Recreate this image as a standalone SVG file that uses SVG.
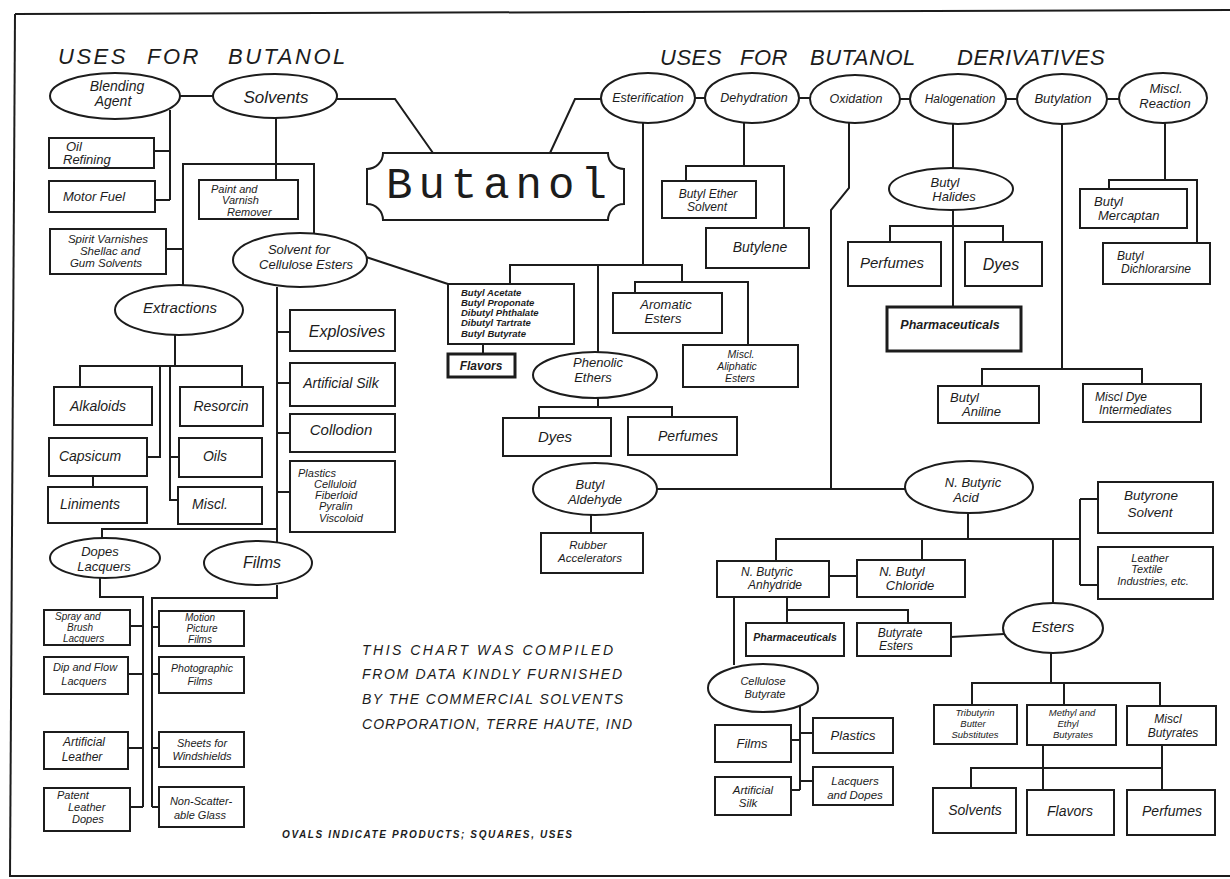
<svg xmlns="http://www.w3.org/2000/svg" width="1230" height="879" viewBox="0 0 1230 879">
<style>
.n{fill:#fff;stroke:#1c1c1c;stroke-width:2}
.c{fill:none;stroke:#1c1c1c;stroke-width:2}
.b{fill:#fff;stroke:#1c1c1c;stroke-width:3}
text{font-family:"Liberation Sans",Arial,sans-serif;font-style:italic;fill:#1c1c1c;text-anchor:middle}
.s{text-anchor:start}
.bold{font-weight:bold}
.title{font-size:22px;text-anchor:start}
.note{font-size:14px;text-anchor:start}
</style>
<rect width="1230" height="879" fill="#fff"/>
<g id="frame" class="c">
<path d="M15,14 L1230,10"/>
<path d="M15,14 L10,877"/>
<path d="M10,876 L1230,876"/>
</g>
<g id="titles">
<text class="title" y="64" style="letter-spacing:2.5px"><tspan x="58">USES</tspan> <tspan x="147">FOR</tspan> <tspan x="228">BUTANOL</tspan></text>
<text class="title" y="65" style="letter-spacing:0.5px"><tspan x="660">USES</tspan> <tspan x="740">FOR</tspan> <tspan x="810">BUTANOL</tspan> <tspan x="957">DERIVATIVES</tspan></text>
</g>
<g id="connectors" class="c">
<path d="M180,96 H213"/>
<path d="M337,99 H395 L433,153"/>
<path d="M170,110 V200 M154,151 H170 M155,200 H170"/>
<path d="M276,118 V180"/>
<path d="M183,287 V164 H314 V233 M166,249 H183"/>
<path d="M366,257 L448,284"/>
<path d="M277,287 V542 M277,332 H290 M277,383 H290 M277,433 H290 M277,492 H290"/>
<path d="M102,538 V529 H277"/>
<path d="M175,335 V366 M80,387 V366 H242 V387 M160,366 V457 H147 M170,366 V500 H179 M170,457 H179 M93,476 V487"/>
<path d="M100,578 V597 H143 V807 M277,585 V598 H152 V807"/>
<path d="M130,626 H143 M128,674 H143 M128,748 H143 M130,807 H143"/>
<path d="M152,627 H159 M152,674 H159 M152,748 H159 M152,807 H159"/>
<path d="M550,153 L575,99 H601"/>
<path d="M695,98 H706 M799,98 H810 M899,99 H910 M1006,99 H1017 M1107,99 H1119"/>
<path d="M643,123 V265 M510,284 V265 H682 V282 M598,265 V352 M635,293 V282 H748 V345"/>
<path d="M483,344 V354"/>
<path d="M598,398 V407 M539,418 V407 H672 V417"/>
<path d="M657,489 H905"/>
<path d="M591,515 V533"/>
<path d="M849,123 V188 L831,210 V489"/>
<path d="M744,123 V166 M686,181 V166 H784 V228"/>
<path d="M953,124 V168 M953,210 V307 M890,242 V226 H1003 V242"/>
<path d="M1062,124 V369 M982,386 V369 H1142 V384"/>
<path d="M1165,123 V180 M1109,189 V180 H1197 V243"/>
<path d="M968,513 V539 M776,561 V539 H1080 M922,539 V560 M1053,539 V603 M1080,499 V585 M1080,499 H1098 M1080,585 H1098"/>
<path d="M829,576 H857 M787,597 V610 H908 V623 M787,610 V623 M734,597 V665"/>
<path d="M951,637 L1004,634"/>
<path d="M800,705 V790 M791,740 H800 M800,733 H813 M791,790 H800 M800,781 H813"/>
<path d="M1051,653 V683 M972,705 V683 H1160 V706 M1064,683 V705"/>
<path d="M1043,745 V790 M1162,745 V790 M971,788 V768 H1162"/>
</g>
<g id="butanol">
<path class="n" d="M383,153 H608 A16,16 0 0 0 624,169 V204 A16,16 0 0 0 608,220 H383 A16,16 0 0 0 367,204 V169 A16,16 0 0 0 383,153 Z"/>
<text x="386" y="198" style="font-family:'Liberation Mono',monospace;font-style:normal;font-size:44px;letter-spacing:6px;text-anchor:start">Butanol</text>
</g>
<g id="blending-agent"><ellipse class="n" cx="115" cy="96" rx="65" ry="23"/><text font-size="14"><tspan x="117" y="91">Blending</tspan><tspan x="113" y="106">Agent</tspan></text></g>
<g id="solvents"><ellipse class="n" cx="275" cy="96" rx="62" ry="22"/><text x="276" y="103" font-size="17">Solvents</text></g>
<g id="oil-refining"><rect class="n" x="49" y="138" width="105" height="30"/><text class="s" font-size="13"><tspan x="66" y="151">Oil</tspan><tspan x="63" y="164">Refining</tspan></text></g>
<g id="motor-fuel"><rect class="n" x="49" y="181" width="106" height="31"/><text class="s" x="63" y="201" font-size="13">Motor Fuel</text></g>
<g id="spirit-varnishes"><rect class="n" x="50" y="229" width="116" height="45"/><text font-size="11.5"><tspan x="108" y="243">Spirit Varnishes</tspan><tspan x="110" y="255">Shellac and</tspan><tspan x="106" y="267">Gum Solvents</tspan></text></g>
<g id="paint-remover"><rect class="n" x="199" y="180" width="99" height="39"/><text class="s" font-size="11"><tspan x="211" y="193">Paint and</tspan><tspan x="222" y="204">Varnish</tspan><tspan x="227" y="216">Remover</tspan></text></g>
<g id="solvent-cellulose"><ellipse class="n" cx="300" cy="260" rx="67" ry="27"/><text font-size="13"><tspan x="299" y="254">Solvent for</tspan><tspan x="306" y="269">Cellulose Esters</tspan></text></g>
<g id="extractions"><ellipse class="n" cx="179" cy="310" rx="64" ry="25"/><text x="180" y="313" font-size="15">Extractions</text></g>
<g id="alkaloids"><rect class="n" x="54" y="387" width="98" height="38"/><text x="98" y="411" font-size="14">Alkaloids</text></g>
<g id="resorcin"><rect class="n" x="180" y="387" width="83" height="39"/><text x="221" y="411" font-size="14">Resorcin</text></g>
<g id="capsicum"><rect class="n" x="49" y="438" width="98" height="38"/><text x="90" y="461" font-size="14">Capsicum</text></g>
<g id="oils"><rect class="n" x="179" y="438" width="83" height="39"/><text x="215" y="461" font-size="14">Oils</text></g>
<g id="liniments"><rect class="n" x="48" y="487" width="99" height="36"/><text x="90" y="509" font-size="14">Liniments</text></g>
<g id="miscl-extr"><rect class="n" x="178" y="487" width="84" height="37"/><text x="210" y="509" font-size="14">Miscl.</text></g>
<g id="explosives"><rect class="n" x="290" y="310" width="105" height="41"/><text x="347" y="337" font-size="16">Explosives</text></g>
<g id="artificial-silk"><rect class="n" x="290" y="363" width="105" height="43"/><text x="341" y="388" font-size="14">Artificial Silk</text></g>
<g id="collodion"><rect class="n" x="290" y="414" width="105" height="38"/><text x="341" y="435" font-size="15">Collodion</text></g>
<g id="plastics-list"><rect class="n" x="290" y="461" width="105" height="71"/><text class="s" font-size="11"><tspan x="298" y="477">Plastics</tspan><tspan x="314" y="488">Celluloid</tspan><tspan x="315" y="499">Fiberloid</tspan><tspan x="319" y="510">Pyralin</tspan><tspan x="319" y="522">Viscoloid</tspan></text></g>
<g id="dopes-lacquers"><ellipse class="n" cx="105" cy="558" rx="55" ry="20"/><text font-size="13"><tspan x="100" y="556">Dopes</tspan><tspan x="104" y="571">Lacquers</tspan></text></g>
<g id="films-oval"><ellipse class="n" cx="258" cy="563" rx="54" ry="22"/><text x="262" y="568" font-size="16">Films</text></g>
<g id="spray-brush"><rect class="n" x="44" y="610" width="86" height="35"/><text class="s" font-size="10"><tspan x="55" y="620">Spray and</tspan><tspan x="67" y="631">Brush</tspan><tspan x="63" y="642">Lacquers</tspan></text></g>
<g id="dip-flow"><rect class="n" x="44" y="657" width="84" height="37"/><text font-size="11"><tspan x="85" y="671">Dip and Flow</tspan><tspan x="84" y="685">Lacquers</tspan></text></g>
<g id="artificial-leather"><rect class="n" x="44" y="732" width="84" height="37"/><text font-size="12"><tspan x="84" y="746">Artificial</tspan><tspan x="82" y="761">Leather</tspan></text></g>
<g id="patent-leather"><rect class="n" x="44" y="788" width="86" height="43"/><text class="s" font-size="11"><tspan x="57" y="799">Patent</tspan><tspan x="68" y="811">Leather</tspan><tspan x="72" y="823">Dopes</tspan></text></g>
<g id="motion-picture"><rect class="n" x="159" y="611" width="85" height="35"/><text font-size="10"><tspan x="200" y="621">Motion</tspan><tspan x="202" y="632">Picture</tspan><tspan x="200" y="643">Films</tspan></text></g>
<g id="photographic"><rect class="n" x="159" y="657" width="85" height="36"/><text font-size="10.5"><tspan x="202" y="672">Photographic</tspan><tspan x="200" y="685">Films</tspan></text></g>
<g id="sheets"><rect class="n" x="159" y="732" width="85" height="35"/><text font-size="11"><tspan x="202" y="747">Sheets for</tspan><tspan x="202" y="760">Windshields</tspan></text></g>
<g id="non-scatter"><rect class="n" x="159" y="787" width="85" height="40"/><text font-size="11"><tspan x="201" y="805">Non-Scatter-</tspan><tspan x="200" y="819">able Glass</tspan></text></g>
<g id="esterification"><ellipse class="n" cx="648" cy="98" rx="47" ry="25"/><text x="648" y="102" font-size="12.5">Esterification</text></g>
<g id="dehydration"><ellipse class="n" cx="752" cy="98" rx="47" ry="25"/><text x="754" y="102" font-size="12.5">Dehydration</text></g>
<g id="oxidation"><ellipse class="n" cx="855" cy="99" rx="45" ry="24"/><text x="856" y="103" font-size="12.5">Oxidation</text></g>
<g id="halogenation"><ellipse class="n" cx="958" cy="99" rx="48" ry="25"/><text x="960" y="103" font-size="12">Halogenation</text></g>
<g id="butylation"><ellipse class="n" cx="1062" cy="99" rx="45" ry="25"/><text x="1063" y="103" font-size="13">Butylation</text></g>
<g id="miscl-reaction"><ellipse class="n" cx="1163" cy="98" rx="44" ry="25"/><text font-size="13"><tspan x="1166" y="93">Miscl.</tspan><tspan x="1165" y="108">Reaction</tspan></text></g>
<g id="butyl-ether"><rect class="n" x="662" y="181" width="94" height="37"/><text font-size="12"><tspan x="708" y="198">Butyl Ether</tspan><tspan x="707" y="211">Solvent</tspan></text></g>
<g id="butylene"><rect class="n" x="706" y="228" width="103" height="40"/><text x="760" y="252" font-size="14">Butylene</text></g>
<g id="butyl-halides"><ellipse class="n" cx="951" cy="189" rx="62" ry="21"/><text font-size="13"><tspan x="945" y="187">Butyl</tspan><tspan x="954" y="201">Halides</tspan></text></g>
<g id="perfumes-hal"><rect class="n" x="848" y="242" width="93" height="44"/><text x="892" y="268" font-size="15">Perfumes</text></g>
<g id="dyes-hal"><rect class="n" x="965" y="242" width="77" height="44"/><text x="1001" y="270" font-size="16">Dyes</text></g>
<g id="pharma-hal"><rect class="b" x="887" y="307" width="134" height="44"/><text class="bold" x="950" y="329" font-size="12.5">Pharmaceuticals</text></g>
<g id="butyl-mercaptan"><rect class="n" x="1080" y="189" width="107" height="39"/><text class="s" font-size="13"><tspan x="1094" y="206">Butyl</tspan><tspan x="1098" y="220">Mercaptan</tspan></text></g>
<g id="butyl-dichlorarsine"><rect class="n" x="1103" y="243" width="107" height="41"/><text class="s" font-size="12"><tspan x="1117" y="260">Butyl</tspan><tspan x="1121" y="273">Dichlorarsine</tspan></text></g>
<g id="butyl-esters-list"><rect class="n" x="448" y="284" width="126" height="60"/><text class="s bold" font-size="9.5"><tspan x="461" y="296">Butyl Acetate</tspan><tspan x="461" y="306">Butyl Proponate</tspan><tspan x="461" y="316">Dibutyl Phthalate</tspan><tspan x="461" y="326">Dibutyl Tartrate</tspan><tspan x="461" y="337">Butyl Butyrate</tspan></text></g>
<g id="flavors-ester"><rect class="b" x="448" y="354" width="67" height="23"/><text class="bold" x="481" y="370" font-size="12">Flavors</text></g>
<g id="aromatic-esters"><rect class="n" x="613" y="293" width="109" height="40"/><text font-size="13"><tspan x="666" y="309">Aromatic</tspan><tspan x="663" y="323">Esters</tspan></text></g>
<g id="aliphatic-esters"><rect class="n" x="683" y="345" width="115" height="42"/><text font-size="10.5"><tspan x="741" y="358">Miscl.</tspan><tspan x="737" y="370">Aliphatic</tspan><tspan x="740" y="382">Esters</tspan></text></g>
<g id="phenolic-ethers"><ellipse class="n" cx="595" cy="375" rx="62" ry="23"/><text font-size="13"><tspan x="598" y="367">Phenolic</tspan><tspan x="593" y="382">Ethers</tspan></text></g>
<g id="dyes-ph"><rect class="n" x="503" y="418" width="108" height="38"/><text x="555" y="442" font-size="15">Dyes</text></g>
<g id="perfumes-ph"><rect class="n" x="628" y="417" width="109" height="38"/><text x="688" y="441" font-size="14">Perfumes</text></g>
<g id="butyl-aldehyde"><ellipse class="n" cx="595" cy="489" rx="62" ry="26"/><text font-size="13"><tspan x="590" y="489">Butyl</tspan><tspan x="595" y="504">Aldehyde</tspan></text></g>
<g id="rubber-acc"><rect class="n" x="541" y="533" width="102" height="40"/><text font-size="11.5"><tspan x="588" y="549">Rubber</tspan><tspan x="590" y="562">Accelerators</tspan></text></g>
<g id="butyl-aniline"><rect class="n" x="938" y="386" width="101" height="37"/><text class="s" font-size="13"><tspan x="950" y="402">Butyl</tspan><tspan x="962" y="416">Aniline</tspan></text></g>
<g id="dye-intermediates"><rect class="n" x="1083" y="384" width="118" height="38"/><text class="s" font-size="12"><tspan x="1095" y="401">Miscl Dye</tspan><tspan x="1099" y="414">Intermediates</tspan></text></g>
<g id="butyric-acid"><ellipse class="n" cx="969" cy="487" rx="64" ry="26"/><text font-size="13"><tspan x="973" y="487">N. Butyric</tspan><tspan x="966" y="502">Acid</tspan></text></g>
<g id="butyrone"><rect class="n" x="1098" y="482" width="115" height="51"/><text font-size="13.5"><tspan x="1151" y="500">Butyrone</tspan><tspan x="1150" y="517">Solvent</tspan></text></g>
<g id="leather-textile"><rect class="n" x="1098" y="547" width="115" height="52"/><text font-size="11"><tspan x="1150" y="562">Leather</tspan><tspan x="1147" y="573">Textile</tspan><tspan x="1153" y="585">Industries, etc.</tspan></text></g>
<g id="butyric-anhydride"><rect class="n" x="717" y="561" width="112" height="36"/><text font-size="12"><tspan x="767" y="576">N. Butyric</tspan><tspan x="775" y="589">Anhydride</tspan></text></g>
<g id="butyl-chloride"><rect class="n" x="857" y="560" width="108" height="37"/><text font-size="13"><tspan x="902" y="576">N. Butyl</tspan><tspan x="910" y="590">Chloride</tspan></text></g>
<g id="pharma-anh"><rect class="n" x="746" y="623" width="98" height="33"/><text class="bold" x="795" y="641" font-size="10.5">Pharmaceuticals</text></g>
<g id="butyrate-esters"><rect class="n" x="857" y="623" width="94" height="33"/><text font-size="12"><tspan x="900" y="637">Butyrate</tspan><tspan x="896" y="650">Esters</tspan></text></g>
<g id="cellulose-butyrate"><ellipse class="n" cx="763" cy="688" rx="55" ry="24"/><text font-size="11"><tspan x="763" y="685">Cellulose</tspan><tspan x="765" y="698">Butyrate</tspan></text></g>
<g id="films-cb"><rect class="n" x="715" y="725" width="76" height="37"/><text x="752" y="748" font-size="13">Films</text></g>
<g id="silk-cb"><rect class="n" x="715" y="777" width="76" height="38"/><text font-size="11.5"><tspan x="753" y="794">Artificial</tspan><tspan x="748" y="807">Silk</tspan></text></g>
<g id="plastics-cb"><rect class="n" x="813" y="718" width="80" height="35"/><text x="853" y="740" font-size="13">Plastics</text></g>
<g id="lacquers-cb"><rect class="n" x="813" y="767" width="80" height="38"/><text font-size="11.5"><tspan x="855" y="785">Lacquers</tspan><tspan x="855" y="799">and Dopes</tspan></text></g>
<g id="esters"><ellipse class="n" cx="1053" cy="628" rx="50" ry="25"/><text x="1053" y="632" font-size="15">Esters</text></g>
<g id="tributyrin"><rect class="n" x="934" y="705" width="83" height="39"/><text font-size="9.5"><tspan x="975" y="716">Tributyrin</tspan><tspan x="973" y="727">Butter</tspan><tspan x="975" y="738">Substitutes</tspan></text></g>
<g id="methyl-ethyl"><rect class="n" x="1027" y="705" width="89" height="40"/><text font-size="9.5"><tspan x="1072" y="716">Methyl and</tspan><tspan x="1068" y="727">Ethyl</tspan><tspan x="1073" y="738">Butyrates</tspan></text></g>
<g id="miscl-butyrates"><rect class="n" x="1127" y="706" width="89" height="39"/><text font-size="12"><tspan x="1168" y="723">Miscl</tspan><tspan x="1173" y="737">Butyrates</tspan></text></g>
<g id="solvents-e"><rect class="n" x="933" y="788" width="83" height="45"/><text x="975" y="815" font-size="14">Solvents</text></g>
<g id="flavors-e"><rect class="n" x="1027" y="790" width="87" height="45"/><text x="1070" y="816" font-size="14">Flavors</text></g>
<g id="perfumes-e"><rect class="n" x="1127" y="790" width="88" height="45"/><text x="1172" y="816" font-size="14">Perfumes</text></g>
<g id="notes">
<text class="note" x="362" y="655" textLength="251" lengthAdjust="spacing">THIS CHART WAS COMPILED</text>
<text class="note" x="362" y="679" textLength="260" lengthAdjust="spacing">FROM DATA KINDLY FURNISHED</text>
<text class="note" x="362" y="704" textLength="261" lengthAdjust="spacing">BY THE COMMERCIAL SOLVENTS</text>
<text class="note" x="362" y="729" textLength="270" lengthAdjust="spacing">CORPORATION, TERRE HAUTE, IND</text>
<text class="bold" x="282" y="838" font-size="10" style="text-anchor:start" textLength="290" lengthAdjust="spacing">OVALS INDICATE  PRODUCTS; SQUARES, USES</text>
</g>
</svg>
